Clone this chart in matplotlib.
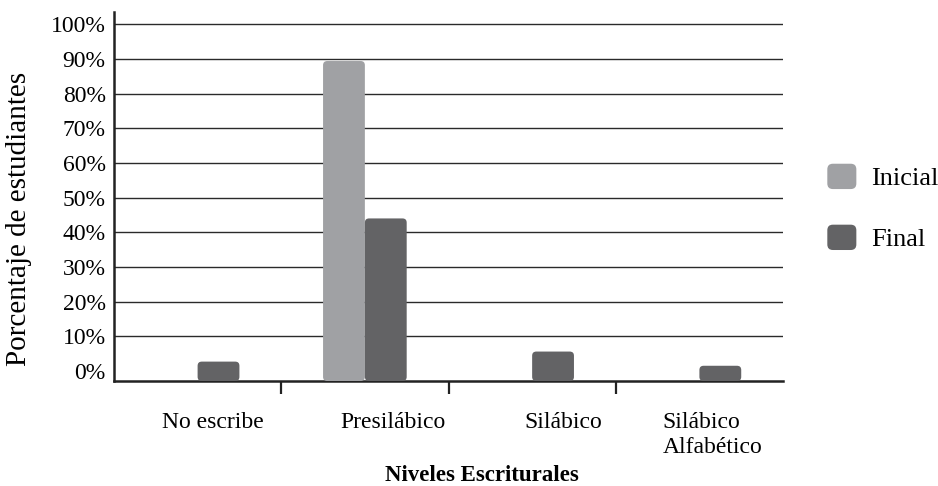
import numpy as np
import matplotlib
matplotlib.use("Agg")
import matplotlib.pyplot as plt
from matplotlib.patches import FancyBboxPatch, Patch
from matplotlib.legend_handler import HandlerPatch
from matplotlib.transforms import ScaledTranslation

# data (percent of students)
niveles = ["No escribe", "Presilábico", "Silábico", "Silábico\nAlfabético"]
inicial = [0, 89.4, 0, 0]
final = [2.7, 44, 5.6, 1.5]
yticks = list(range(0, 101, 10))

c_ini = "#a0a1a4"
c_fin = "#636365"
ymin, ymax = -2.9, 103.5

plt.rcParams['font.family'] = ['Liberation Serif', 'DejaVu Serif']

fig = plt.figure(figsize=(9.38, 4.86), dpi=100)
ax = fig.add_axes([0.1215, 0.216, 0.7133, 0.759])

x = np.arange(len(niveles))
w = 0.25


def rounded_bars(xpos, vals, color):
    vals = np.asarray(vals, dtype=float)
    h = np.where(vals > 0, vals - ymin, 0)
    bars = ax.bar(xpos, h, w, bottom=ymin, color=color, zorder=3)
    for r in bars:
        if r.get_height() <= 0:
            r.remove()
            continue
        p = FancyBboxPatch((r.get_x(), r.get_y()), r.get_width(), r.get_height(),
                           boxstyle="round,pad=0,rounding_size=0.025",
                           mutation_aspect=48, facecolor=color,
                           edgecolor="none", zorder=3)
        r.remove()
        ax.add_patch(p)


class RoundBox(HandlerPatch):
    def create_artists(self, legend, orig, xd, yd, width, height, fontsize, trans):
        p = FancyBboxPatch((-xd, -yd), width, height,
                           boxstyle="round,pad=0,rounding_size=4",
                           facecolor=orig.get_facecolor(), edgecolor="none")
        p.set_transform(trans)
        return [p]


rounded_bars(x - w / 2, inicial, c_ini)
rounded_bars(x + w / 2, final, c_fin)

ax.set_xlim(-0.5, len(niveles) - 0.5)
ax.set_ylim(ymin, ymax)

for t in yticks[1:]:
    ax.axhline(t, color="#2a2a2a", lw=1.0, zorder=1)

ax.set_yticks(yticks)
ax.set_yticklabels([f"{t}%" for t in yticks], fontsize=17)
ax.tick_params(axis="y", length=0, pad=6)

ax.set_xticks(x)
ax.set_xticklabels(niveles, fontsize=17, linespacing=1.25)
ax.set_xticks(np.arange(len(niveles) - 1) + 0.5, minor=True)
ax.tick_params(axis="x", which="major", length=0, pad=22)
ax.tick_params(axis="x", which="minor", length=9, width=1.6, color="#222222",
               direction="out")
xl = ax.get_xticklabels()
shift = [15, 28, 31, 0]
for i, lab in enumerate(xl):
    lab.set_verticalalignment("top")
    lab.set_transform(lab.get_transform() + ScaledTranslation(shift[i] / 100, 0, fig.dpi_scale_trans))
xl[3].set_horizontalalignment("left")
xl[3].set_transform(xl[3].get_transform() + ScaledTranslation(-37 / 100, 0, fig.dpi_scale_trans))

for s in ["top", "right"]:
    ax.spines[s].set_visible(False)
for s in ["left", "bottom"]:
    ax.spines[s].set_linewidth(1.8)
    ax.spines[s].set_color("#222222")

ax.set_ylabel("Porcentaje de estudiantes", fontsize=21)
ax.yaxis.set_label_coords(-0.123, 0.44)
ax.set_xlabel("Niveles Escriturales", fontsize=16.5, fontweight="bold")
ax.xaxis.set_label_coords(0.55, -0.229)

handles = [Patch(facecolor=c_ini, label="Inicial"), Patch(facecolor=c_fin, label="Final")]
fig.legend(handles=handles, loc="center left", bbox_to_anchor=(0.882, 0.573),
           frameon=False, fontsize=19, handlelength=1.1, handleheight=1.1,
           labelspacing=1.3, handletextpad=0.55, borderpad=0, borderaxespad=0,
           handler_map={Patch: RoundBox()})

fig.savefig("out.png", dpi=100)
